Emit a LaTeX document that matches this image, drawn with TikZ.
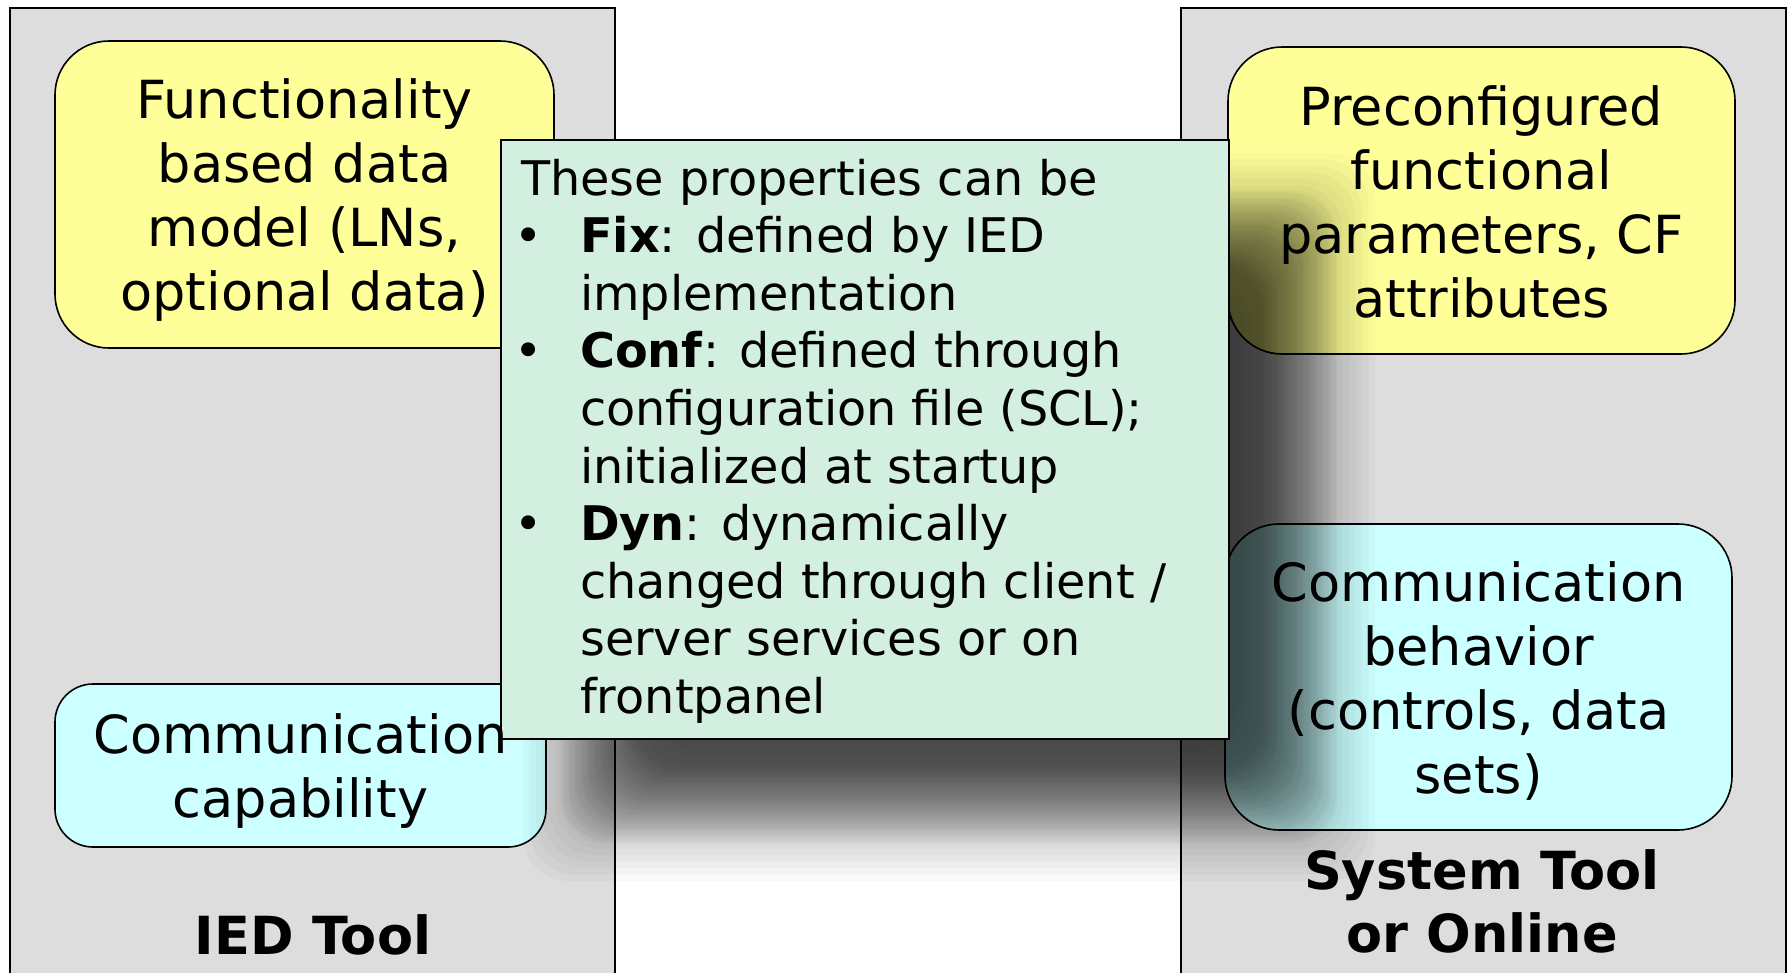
\documentclass[tikz,border=0pt]{standalone}
\usepackage{fontspec}
\setmainfont{DejaVu Sans}
\definecolor{panelgray}{HTML}{DDDDDD}
\definecolor{ylw}{HTML}{FFFF99}
\definecolor{cyn}{HTML}{CCFFFF}
\definecolor{mint}{HTML}{D3EFE0}
\begin{document}
\begin{tikzpicture}[x=1pt,y=-1pt,
  panel/.style={draw=black, line width=1.8pt, fill=panelgray, inner sep=0pt, anchor=north west},
  bigbox/.style={draw=black, line width=1.6pt, rounded corners=54pt, inner sep=0pt},
  ybox/.style={bigbox, fill=ylw},
  cbox/.style={bigbox, fill=cyn},
  boxtext/.style={align=center, inner sep=0pt, font=\fontsize{52.5}{64}\selectfont},
  tooltext/.style={align=center, inner sep=0pt, font=\fontsize{52.5}{63}\selectfont\bfseries},
  notebox/.style={draw=black, line width=1.6pt, fill=mint, inner sep=0pt, anchor=north west},
  notetext/.style={align=left, inner sep=0pt, anchor=north west, font=\fontsize{47.7}{57.6}\selectfont},
  shadowlayer/.style={black, opacity=0.024, rounded corners=45pt}
]
\useasboundingbox (0,0) rectangle (1790,972);
\clip (0,0) rectangle (1790,972);
\fill[white] (0,0) rectangle (1790,972);

% panels
\node[panel, minimum width=605pt, minimum height=1010pt] (iedpanel) at (9,7) {};
\node[panel, minimum width=605pt, minimum height=1010pt] (syspanel) at (1180,7) {};

% boxes
\node[ybox, minimum width=499pt, minimum height=307pt] (fd) at (304.5,194.5) {};
\node[cbox, rounded corners=38pt, minimum width=491pt, minimum height=163pt] (cc) at (300.5,765.5) {};
\node[ybox, minimum width=507pt, minimum height=307pt] (pf) at (1481.5,200.5) {};
\node[cbox, minimum width=507pt, minimum height=306pt] (cb) at (1478.5,677) {};

\node[boxtext] (fdt) at ([yshift=-6pt]fd.center) {Functionality\\based data\\model (LNs,\\optional data)};
\node[boxtext] (pft) at ([yshift=-1pt]pf.center) {Preconfigured\\functional\\parameters, CF\\attributes};
\node[boxtext] (cbt) at ([yshift=-4pt]cb.center) {Communication\\behavior\\(controls, data\\sets)};

% tool labels
\node[tooltext, anchor=base] (iedlabel) at (313,954) {IED Tool};
\node[tooltext] (syslabel) at (1482,901.5) {System Tool\\or Online};

% soft shadow of the note (two stacks of layers give a smooth fall-off)
\foreach \i in {0,...,23}{
  \pgfmathsetmacro{\d}{75-150*\i/23}
  \fill[shadowlayer]
    ({598-\d},{228-\d}) rectangle ({1300+\d},{806+\d});
  \pgfmathsetmacro{\e}{38-76*\i/23}
  \fill[shadowlayer]
    ({598-\e},{228-\e}) rectangle ({1300+\e},{806+\e});
}

% note box
\node[notebox, minimum width=728pt, minimum height=599pt] (props) at (500,139) {};
\node[notetext] (propst) at (521,158.7) {These properties can be\\
\makebox[59pt][l]{\hspace*{-7pt}\textbullet}\textbf{Fix}: defined by IED\\
\hspace*{59pt}implementation\\
\makebox[59pt][l]{\hspace*{-7pt}\textbullet}\textbf{Conf}: defined through\\
\hspace*{59pt}configuration file (SCL);\\
\hspace*{59pt}initialized at startup\\
\makebox[59pt][l]{\hspace*{-7pt}\textbullet}\textbf{Dyn}: dynamically\\
\hspace*{59pt}changed through client /\\
\hspace*{59pt}server services or on\\
\hspace*{59pt}frontpanel};

\node[boxtext] (cct) at ([yshift=-6pt]cc.center) {Communication\\capability};
\end{tikzpicture}
\end{document}
